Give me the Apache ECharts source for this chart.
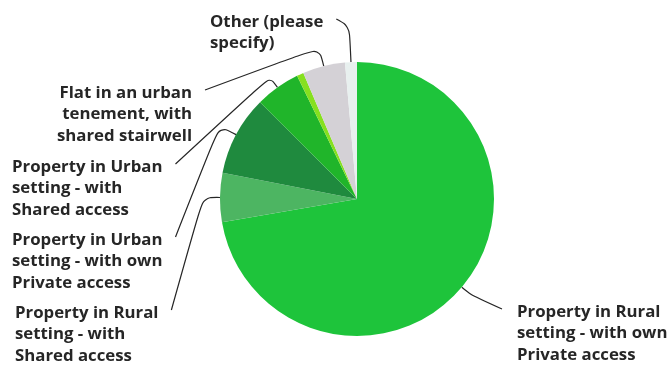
<!DOCTYPE html>
<html lang="en">
  <head>
    <meta charset="UTF-8" />
    <script src="https://cdn.jsdelivr.net/npm/echarts@6/dist/echarts.min.js"></script>
    <title>Property type</title>
    <style>
      html, body { margin: 0; background: #fff; }
      #app { width: 667px; height: 367px; }
    </style>
  </head>
  <body>
    <div id="app"></div>
    <script>
      // slices, clockwise from 12 o'clock
      const categories = [
        "Property in Rural\nsetting - with own\nPrivate access",
        "Property in Rural\nsetting - with\nShared access",
        "Property in Urban\nsetting - with own\nPrivate access",
        "Property in Urban\nsetting - with\nShared access",
        "",
        "Flat in an urban\ntenement, with\nshared stairwell",
        "Other (please\nspecify)",
      ];
      const values = [72.2, 5.8, 9.4, 5.3, 0.8, 5.0, 1.4];
      const colors = ["#1ec43b", "#4db562", "#1f8a3e", "#20b52a", "#86e01f", "#d4d1d6", "#e8f0ef"];

      const center = [357, 199];
      const radius = 137;
      // where each label sits (top edge of first line), and how far the line leaves the pie
      const labelPos = [
        { x: 517, y: 301, align: "left", side: "right", len: 12 },
        { x: 15, y: 302, align: "left", side: "left", len: 17 },
        { x: 12, y: 229, align: "left", side: "left", len: 19 },
        { x: 12, y: 156, align: "left", side: "left", len: 13 },
        null,
        { x: 192, y: 82, align: "right", side: "left", len: 19 },
        { x: 210, y: 11, align: "left", side: "left", len: 36 },
      ];

      const chart = echarts.init(document.getElementById("app"));

      const data = categories.map((name, i) => {
        const item = { name: name, value: values[i], itemStyle: { color: colors[i] } };
        if (!labelPos[i]) {
          item.label = { show: false };
          item.labelLine = { show: false };
        }
        return item;
      });

      chart.setOption({
        animation: false,
        series: [
          {
            type: "pie",
            center: center,
            radius: radius,
            startAngle: 90,
            avoidLabelOverlap: false,
            minShowLabelAngle: 0,
            emphasis: { disabled: true },
            itemStyle: { borderWidth: 0 },
            label: {
              show: true,
              position: "outside",
              formatter: "{b}",
              fontFamily: "Open Sans",
              fontWeight: "bold",
              fontSize: 16.8,
              lineHeight: 21.5,
              color: "#262626",
            },
            labelLine: {
              show: true,
              smooth: 0.35,
              length: 15,
              length2: 10,
              lineStyle: { color: "#262626", width: 1.2 },
            },
            labelLayout: function (params) {
              const p = labelPos[params.dataIndex];
              if (!p) return {};
              const w = params.labelRect.width;
              const pts = params.labelLinePoints;
              const edge = pts[0];
              const dx = (edge[0] - center[0]) / radius;
              const dy = (edge[1] - center[1]) / radius;
              const elbow = [edge[0] + dx * p.len, edge[1] + dy * p.len];
              let endX;
              if (p.side === "right") endX = p.x - 15;
              else if (p.align === "right") endX = p.x + 13;
              else endX = p.x + w + 13;
              const end = [endX, p.y + 8];
              return {
                x: p.x,
                y: p.y,
                align: p.align,
                verticalAlign: "top",
                labelLinePoints: [edge, elbow, end],
              };
            },
            data: data,
          },
        ],
      });
    </script>
  </body>
</html>
